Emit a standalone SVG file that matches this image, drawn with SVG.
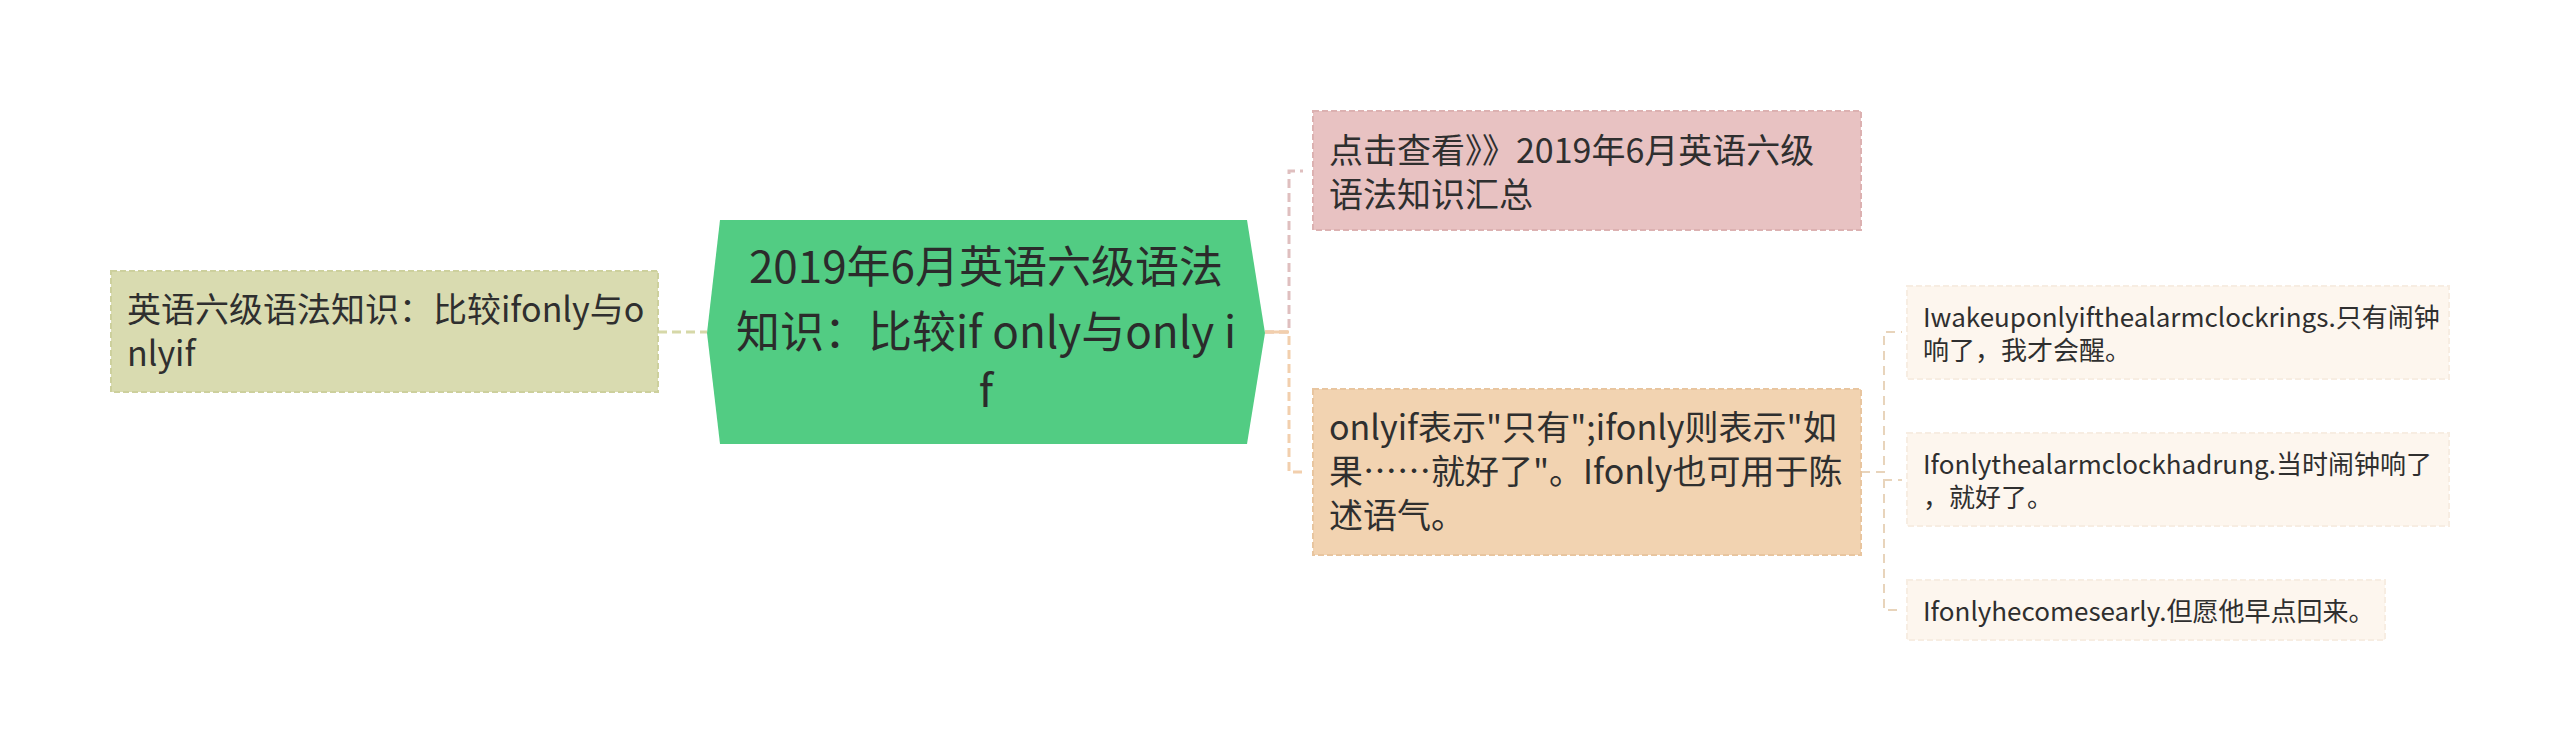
<svg xmlns="http://www.w3.org/2000/svg" width="2560" height="751" viewBox="0 0 2560 751">
<style>
.t{font-family:"Noto Sans CJK SC","Noto Sans",sans-serif;fill:#2f2f2f;}
.m{font-size:34px;}
.s{font-size:26px;}
.c{font-size:44px;fill:#2b2b2b;}
.box{stroke-width:2;stroke-dasharray:6 3;}
.cn{fill:none;stroke-width:3;stroke-dasharray:9 5;}
.cs{fill:none;stroke-width:2;stroke-dasharray:9 6;stroke:#e8d4bb;}
</style>
<rect width="2560" height="751" fill="#ffffff"/>
<g id="connectors">
  <path class="cn" d="M658,332 H707" stroke="#d6d8a8"/>
  <path class="cn" d="M1265,332 H1289 V171 H1303" stroke="#dfbfbf"/>
  <path class="cn" d="M1265,332 H1289 V472 H1303" stroke="#f2cfad"/>
  <path d="M1265,332 H1289" stroke="#f2cfad" stroke-width="3" fill="none"/>
  <path class="cs" d="M1861,472 H1884 V332 H1902"/>
  <path class="cs" d="M1861,472 H1884 V480 H1902"/>
  <path class="cs" d="M1861,472 H1884 V610 H1902"/>
</g>
<g id="node-center">
  <polygon points="720,220 1247,220 1265,333 1247,444 720,444 707,333" fill="#52cc83"/>
  <text class="t c" text-anchor="middle"><tspan x="986" y="283">2019年6月英语六级语法</tspan><tspan x="986" y="348">知识：比较if only与only i</tspan><tspan x="986" y="407">f</tspan></text>
</g>
<g id="node-left">
  <rect class="box" x="111" y="271" width="547" height="121" fill="#d9dbb0" stroke="#cdd09d"/>
  <text class="t m"><tspan x="127" y="322">英语六级语法知识：比较ifonly与o</tspan><tspan x="127" y="366">nlyif</tspan></text>
</g>
<g id="node-pink">
  <rect class="box" x="1313" y="111" width="548" height="119" fill="#e8c2c2" stroke="#dcb1b1"/>
  <text class="t m"><tspan x="1329" y="163">点击查看》》2019年6月英语六级</tspan><tspan x="1329" y="207">语法知识汇总</tspan></text>
</g>
<g id="node-orange">
  <rect class="box" x="1313" y="389" width="548" height="166" fill="#f2d3b1" stroke="#e8c59f"/>
  <text class="t m"><tspan x="1329" y="440">onlyif表示"只有";ifonly则表示"如</tspan><tspan x="1329" y="484">果……就好了"。Ifonly也可用于陈</tspan><tspan x="1329" y="528">述语气。</tspan></text>
</g>
<g id="node-r1">
  <rect class="box" x="1907" y="286" width="542" height="93" fill="#fdf6ee" stroke="#f7ede2"/>
  <text class="t s"><tspan x="1923" y="327">Iwakeuponlyifthealarmclockrings.只有闹钟</tspan><tspan x="1923" y="360">响了，我才会醒。</tspan></text>
</g>
<g id="node-r2">
  <rect class="box" x="1907" y="433" width="542" height="93" fill="#fdf6ee" stroke="#f7ede2"/>
  <text class="t s"><tspan x="1923" y="474">Ifonlythealarmclockhadrung.当时闹钟响了</tspan><tspan x="1923" y="507">，就好了。</tspan></text>
</g>
<g id="node-r3">
  <rect class="box" x="1907" y="580" width="478" height="60" fill="#fdf6ee" stroke="#f7ede2"/>
  <text class="t s" x="1923" y="621">Ifonlyhecomesearly.但愿他早点回来。</text>
</g>
</svg>
